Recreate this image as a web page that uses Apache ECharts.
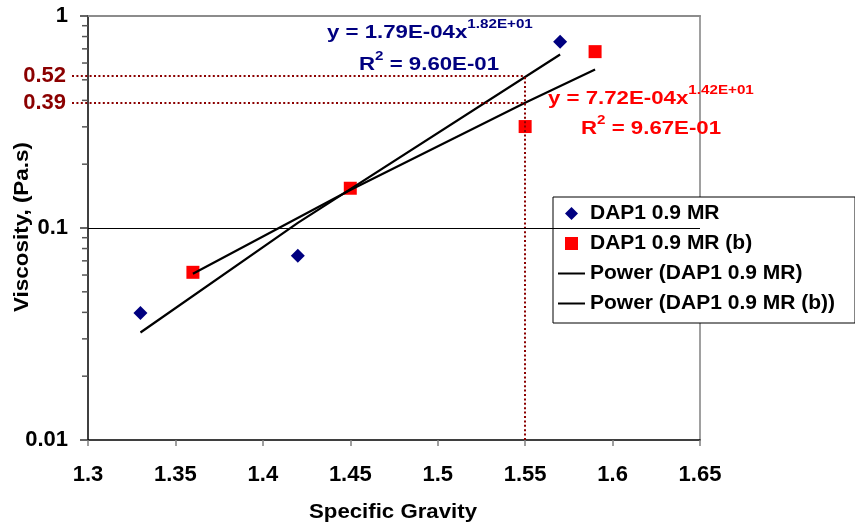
<!DOCTYPE html>
<html>
<head>
<meta charset="utf-8">
<script src="https://cdn.jsdelivr.net/npm/echarts@6/dist/echarts.min.js"></script>
<style>
  html, body { margin: 0; padding: 0; background: #fff; }
  #chart { width: 855px; height: 528px; }
</style>
</head>
<body>
<div id="chart"></div>
<script>
// Specific gravity (x) and viscosity in Pa.s (y) for the two sample sets
const gravityA = [1.33, 1.42, 1.57];
const viscosityA = [0.0397, 0.0740, 0.757];
const gravityB = [1.36, 1.45, 1.55, 1.59];
const viscosityB = [0.0618, 0.154, 0.301, 0.679];

// Power-law fits y = a * x^b and their R² values
const fitA = { a: 1.79e-4, b: 18.2, r2: 0.960 };
const fitB = { a: 7.72e-4, b: 14.2, r2: 0.967 };

const refGravity = 1.55;
const refViscosity = [0.52, 0.39];

// Axis ranges and log minor tick values
const xRange = { min: 1.3, max: 1.65, step: 0.05 };
const yRange = { min: 0.01, max: 1 };
const yMinorTicks = [0.02, 0.03, 0.04, 0.05, 0.06, 0.07, 0.08, 0.09,
                     0.2, 0.3, 0.4, 0.5, 0.6, 0.7, 0.8, 0.9];

const seriesNames = ['DAP1 0.9 MR', 'DAP1 0.9 MR (b)',
                     'Power (DAP1 0.9 MR)', 'Power (DAP1 0.9 MR (b))'];

const FONT = '"Liberation Sans", Arial, Helvetica, sans-serif';
const NAVY = '#000080';
const RED = '#ff0000';
const REF_RED = '#8b0000';

// Legend glyphs: diamond, square and a short solid stroke
const ICON_DIAMOND = 'path://M6,0 L12,6 L6,12 L0,6 Z';
const ICON_SQUARE = 'path://M0,0 L11,0 L11,11 L0,11 Z';
const ICON_STROKE = 'path://M0,0 L27,0 L27,2 L0,2 Z';

// Spreadsheet-style scientific notation, e.g. 1.79E-04
function sci(v) {
  const parts = v.toExponential(2).split('e');
  const n = parseInt(parts[1], 10);
  return parts[0] + 'E' + (n < 0 ? '-' : '+') + String(Math.abs(n)).padStart(2, '0');
}

function pairs(xs, ys) { return xs.map((x, i) => [x, ys[i]]); }
function fitLine(xs, fit) { return xs.map(x => [x, fit.a * Math.pow(x, fit.b)]); }

function richStyle(color) {
  return {
    m: { fontSize: 19, fontWeight: 'bold', fontFamily: FONT, fill: color },
    s: { fontSize: 13, fontWeight: 'bold', fontFamily: FONT, fill: color, padding: [0, 0, 17, 0] }
  };
}

function eqText(x, y, fit, color) {
  return {
    type: 'text', x: x, y: y, scaleX: 1.17, silent: true, z: 10,
    style: {
      text: '{m|y = ' + sci(fit.a) + 'x}{s|' + sci(fit.b) + '}',
      rich: richStyle(color), fill: color,
      align: 'left', verticalAlign: 'middle'
    }
  };
}

function r2Text(x, y, fit, color) {
  return {
    type: 'text', x: x, y: y, scaleX: 1.17, silent: true, z: 10,
    style: {
      text: '{m|R}{s|2}{m| = ' + sci(fit.r2) + '}',
      rich: richStyle(color), fill: color,
      align: 'left', verticalAlign: 'middle'
    }
  };
}

// Dotted guide lines from the y axis to the gravity value and down to the x axis
const refLineStyle = { type: [2, 2.4], width: 2, color: REF_RED };
const refLines = refViscosity.map(v => [
  { x: 72, yAxis: v,
    label: { show: true, position: 'start', distance: 6, formatter: String(v),
             color: REF_RED, fontSize: 22, fontWeight: 'bold', fontFamily: FONT } },
  { xAxis: refGravity, yAxis: v }
]);
refLines.push([
  { xAxis: refGravity, yAxis: yRange.min },
  { xAxis: refGravity, yAxis: Math.max.apply(null, refViscosity) }
]);
// Decade grid line
refLines.push([
  { xAxis: xRange.min, yAxis: 0.1, lineStyle: { type: 'solid', width: 1, color: '#000' } },
  { xAxis: xRange.max, yAxis: 0.1 }
]);

const chart = echarts.init(document.getElementById('chart'), null, { renderer: 'canvas' });

chart.setOption({
  animation: false,
  backgroundColor: '#fff',
  grid: { left: 88, right: 155, top: 16, bottom: 88 },
  xAxis: [
    {
      type: 'value', min: xRange.min, max: xRange.max, interval: xRange.step,
      axisLine: { lineStyle: { color: '#000', width: 1.5 } },
      axisTick: { length: 6, lineStyle: { color: '#808080', width: 1.5 } },
      axisLabel: { fontSize: 22, fontWeight: 'bold', color: '#000', fontFamily: FONT, margin: 24 },
      splitLine: { show: false }
    },
    {
      type: 'value', position: 'top', min: xRange.min, max: xRange.max,
      axisLine: { show: true, lineStyle: { color: '#8c8c8c', width: 2 } },
      axisTick: { show: false }, axisLabel: { show: false }, splitLine: { show: false }
    }
  ],
  yAxis: [
    {
      type: 'log', logBase: 10, min: yRange.min, max: yRange.max,
      axisLine: { lineStyle: { color: '#000', width: 1.5 } },
      axisTick: { length: 8, lineStyle: { color: '#333', width: 1.5 } },
      axisLabel: { fontSize: 22, fontWeight: 'bold', color: '#000', fontFamily: FONT, margin: 20 },
      splitLine: { show: false }
    },
    {
      type: 'log', logBase: 10, position: 'right', min: yRange.min, max: yRange.max,
      axisLine: { show: true, lineStyle: { color: '#a0a0a0', width: 2 } },
      axisTick: { show: false }, axisLabel: { show: false }, splitLine: { show: false }
    }
  ],
  legend: {
    orient: 'vertical', left: 553, top: 197,
    padding: [6, 20, 9, 5], itemGap: 9, itemWidth: 27, itemHeight: 13,
    symbolKeepAspect: true,
    backgroundColor: '#fff', borderColor: '#000', borderWidth: 1,
    selectedMode: false,
    textStyle: { fontSize: 21, fontWeight: 'bold', color: '#000', fontFamily: FONT, lineHeight: 20 },
    data: [
      { name: seriesNames[0], icon: ICON_DIAMOND, itemStyle: { color: NAVY } },
      { name: seriesNames[1], icon: ICON_SQUARE, itemStyle: { color: RED } },
      { name: seriesNames[2], icon: ICON_STROKE, itemStyle: { color: '#000' } },
      { name: seriesNames[3], icon: ICON_STROKE, itemStyle: { color: '#000' } }
    ]
  },
  graphic: [
    eqText(327, 33, fitA, NAVY),
    r2Text(359, 65, fitA, NAVY),
    eqText(548, 99, fitB, RED),
    r2Text(581, 129, fitB, RED),
    {
      type: 'text', x: 393, y: 513, scaleX: 1.14, silent: true,
      style: { text: 'Specific Gravity', fontSize: 19.5, fontWeight: 'bold', fontFamily: FONT,
               fill: '#000', align: 'center', verticalAlign: 'middle' }
    },
    {
      type: 'text', x: 23, y: 227, rotation: Math.PI / 2, scaleX: 1.15, silent: true,
      style: { text: 'Viscosity, (Pa.s)', fontSize: 19.5, fontWeight: 'bold', fontFamily: FONT,
               fill: '#000', align: 'center', verticalAlign: 'middle' }
    }
  ],
  series: [
    {
      name: 'guides', type: 'line', data: [], silent: true,
      markLine: {
        silent: true, symbol: ['none', 'none'], animation: false,
        lineStyle: refLineStyle,
        label: { show: false },
        emphasis: { disabled: true },
        data: refLines
      }
    },
    {
      name: seriesNames[0], type: 'scatter', data: pairs(gravityA, viscosityA),
      symbol: 'diamond', symbolSize: 14, itemStyle: { color: NAVY, opacity: 1 }, z: 2
    },
    {
      name: seriesNames[1], type: 'scatter', data: pairs(gravityB, viscosityB),
      symbol: 'rect', symbolSize: 13, itemStyle: { color: RED, opacity: 1 }, z: 2
    },
    {
      name: seriesNames[2], type: 'line', data: fitLine(gravityA, fitA), z: 3,
      symbol: 'none', color: '#000', lineStyle: { color: '#000', width: 2.2 }, silent: true
    },
    {
      name: seriesNames[3], type: 'line', data: fitLine(gravityB, fitB), z: 3,
      symbol: 'none', color: '#000', lineStyle: { color: '#000', width: 2.2 }, silent: true
    },
    {
      name: 'minor ticks', type: 'custom', silent: true, clip: false, z: 3,
      data: yMinorTicks.map(v => [xRange.min, v]),
      renderItem: function (params, api) {
        const p = api.coord([api.value(0), api.value(1)]);
        return {
          type: 'line',
          shape: { x1: p[0] - 6, y1: p[1], x2: p[0], y2: p[1] },
          style: { stroke: '#555', lineWidth: 1.5 }
        };
      }
    }
  ]
});
</script>
</body>
</html>
